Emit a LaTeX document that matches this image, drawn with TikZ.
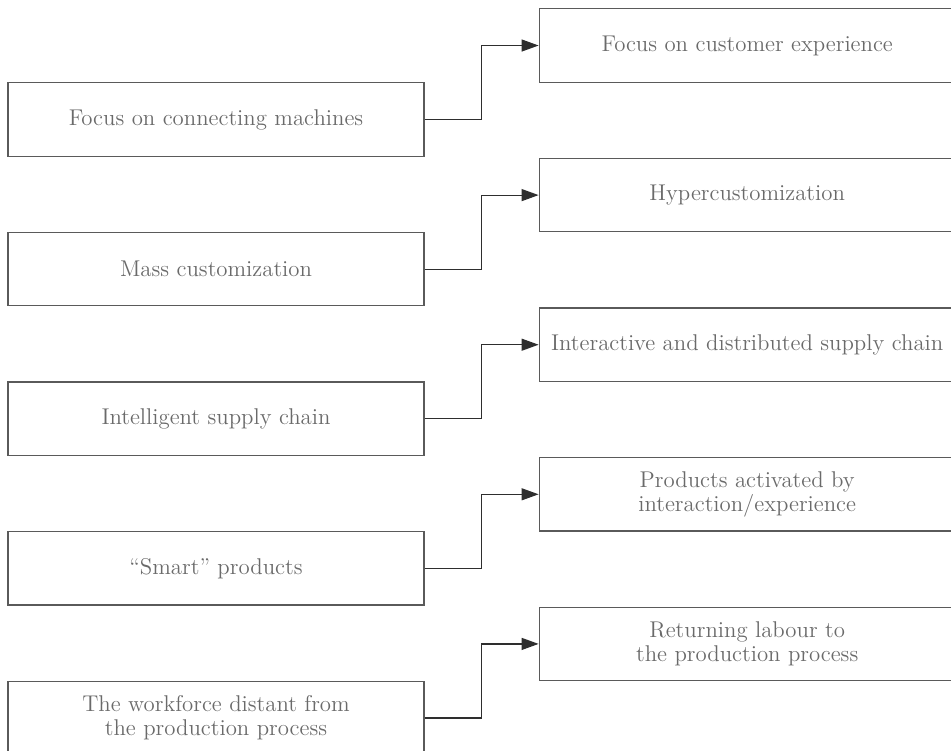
\documentclass[tikz,border=0pt]{standalone}
\usepackage{xcolor}
\usepackage{tikz}
\usetikzlibrary{positioning,arrows.meta}
\definecolor{boxline}{HTML}{5A5A5A}
\definecolor{boxtext}{HTML}{6A6A6A}
\definecolor{linkline}{HTML}{2E2E2E}
\tikzset{shiftchart/.style={x=0.5pt,y=-0.5pt,semithick},
    box/.style={rectangle,draw=boxline,line width=0.6pt,minimum width=208pt,minimum height=36.75pt,
        align=center,text=boxtext,font=\fontsize{11.4}{12}\selectfont},
    leftbox/.style={box},
    rightbox/.style={box},
    link/.style={draw=linkline,line width=0.6pt,-{Triangle[length=8.5pt,width=6pt]}}}

\begin{document}
\begin{tikzpicture}[shiftchart]
    \useasboundingbox (0,0) rectangle (951,750);
    \clip (0,0) rectangle (951,750);
    % old focus on the left, new focus on the right
    \node[leftbox](machines) at (216,119.5){Focus on connecting machines};
    \node[leftbox](mass)[below=37.45pt of machines]{Mass customization};
    \node[leftbox](chain)[below=37.45pt of mass]{Intelligent supply chain};
    \node[leftbox](smart)[below=37.45pt of chain]{``Smart'' products};
    \node[leftbox](workforce)[below=37.45pt of smart]{The workforce distant from\\the production process};

    \node[rightbox](customer)[right=57pt of machines, yshift=37pt]{Focus on customer experience};
    \node[rightbox](hyper)[right=57pt of mass, yshift=37pt]{Hypercustomization};
    \node[rightbox](distributed)[right=57pt of chain, yshift=37pt]{Interactive and distributed supply chain};
    \node[rightbox](activated)[right=57pt of smart, yshift=37pt]{Products activated by\\interaction/experience};
    \node[rightbox](labour)[right=57pt of workforce, yshift=37pt]{Returning labour to\\the production process};

    \draw[link] (machines.east) -- ++(28.5pt,0) |- (customer.west);
    \draw[link] (mass.east) -- ++(28.5pt,0) |- (hyper.west);
    \draw[link] (chain.east) -- ++(28.5pt,0) |- (distributed.west);
    \draw[link] (smart.east) -- ++(28.5pt,0) |- (activated.west);
    \draw[link] (workforce.east) -- ++(28.5pt,0) |- (labour.west);
\end{tikzpicture}
\end{document}
